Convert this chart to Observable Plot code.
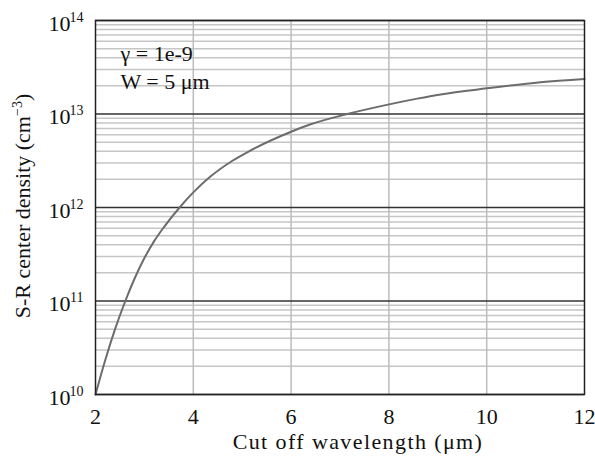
<!DOCTYPE html>
<html>
<head>
<meta charset="utf-8">
<script src="https://cdn.jsdelivr.net/npm/d3@7"></script>
<script src="https://cdn.jsdelivr.net/npm/@observablehq/plot@0.6"></script>
<style>
  html, body { margin: 0; padding: 0; background: #fff; }
  svg, svg text { font-family: "Liberation Serif", "Times New Roman", serif; }
</style>
</head>
<body>
<div id="chart"></div>
<script>
// Cut-off wavelength (µm)
const wavelength = [2, 2.2, 2.4, 2.61, 2.8, 3.0, 3.2, 3.4, 3.72, 4.0, 4.35, 4.8, 5.17, 6.0, 6.4, 7.15, 7.98, 8.58, 9.06, 10.0, 11.1, 12.0];
// S-R center density (cm^-3)
const density = [1e10, 2.34e10, 5.0e10, 1e11, 1.74e11, 2.88e11, 4.37e11, 6.17e11, 1e12, 1.45e12, 2.14e12, 3.16e12, 4.07e12, 6.46e12, 7.76e12, 1e13, 1.26e13, 1.46e13, 1.62e13, 1.88e13, 2.19e13, 2.37e13];

const xTicks = [2, 4, 6, 8, 10, 12];
const xGrid = [4, 6, 8, 10];
const decadeExps = [10, 11, 12, 13, 14];
const decades = [1e10, 1e11, 1e12, 1e13, 1e14];
const minorMultipliers = [2, 3, 4, 5, 6, 7, 8, 9];
const annotations = ["γ = 1e-9", "W = 5 μm"];
const xLabel = "Cut off wavelength (μm)";

const data = wavelength.map((w, i) => ({w, n: density[i]}));
const minors = decades.slice(0, -1).flatMap(d => minorMultipliers.map(m => m * d));
const decadeRows = decades.map((d, i) => ({d, e: String(decadeExps[i])}));

const FONT = 22;
const FAMILY = "Liberation Serif, Times New Roman, serif";

const plot = Plot.plot({
  width: 595,
  height: 459,
  marginLeft: 95,
  marginRight: 11,
  marginTop: 20,
  marginBottom: 65,
  style: {fontFamily: FAMILY, fontSize: FONT + "px", color: "#111", background: "#fff"},
  x: {domain: [2, 12]},
  y: {type: "log", domain: [1e10, 1e14]},
  marks: [
    Plot.ruleY(minors, {stroke: "#c6c6c6", strokeWidth: 1.5}),
    Plot.ruleX(xGrid, {stroke: "#bcbcbc", strokeWidth: 1.5}),
    Plot.ruleY(decades, {stroke: "#333", strokeWidth: 1.5}),
    Plot.line(data, {x: "w", y: "n", stroke: "#6c6c6c", strokeWidth: 2, curve: "monotone-x"}),
    Plot.frame({stroke: "#222", strokeWidth: 1.5}),
    Plot.axisX({ticks: xTicks, tickSize: 0, tickPadding: 14, tickFormat: d => String(d), fontSize: FONT, fontFamily: FAMILY, label: null}),
    Plot.axisY({ticks: [], tickSize: 0, label: null}),
    // y tick labels: "10" plus superscript exponent
    Plot.text(decadeRows, {y: "d", frameAnchor: "left", text: () => "10", textAnchor: "end", lineAnchor: "bottom", dx: -25, dy: 10, fontSize: FONT, fontFamily: FAMILY, fill: "#111"}),
    Plot.text(decadeRows, {y: "d", frameAnchor: "left", text: "e", textAnchor: "end", lineAnchor: "bottom", dx: -12, dy: 1, fontSize: 14, fontFamily: FAMILY, fill: "#111"}),
    // annotations
    Plot.text([annotations[0]], {frameAnchor: "top-left", text: d => d, textAnchor: "start", lineAnchor: "bottom", dx: 25, dy: 40, fontSize: FONT, fontFamily: FAMILY, fill: "#111"}),
    Plot.text([annotations[1]], {frameAnchor: "top-left", text: d => d, textAnchor: "start", lineAnchor: "bottom", dx: 25, dy: 68, fontSize: FONT, fontFamily: FAMILY, fill: "#111"}),
    // x axis label
    Plot.text([xLabel], {frameAnchor: "bottom", text: d => d, textAnchor: "middle", lineAnchor: "bottom", dx: 18, dy: 54, fontSize: FONT, fontFamily: FAMILY, fill: "#111"})
  ]
});

// y-axis label with superscript
const svg = d3.select(plot);
const yl = svg.append("text")
  .attr("transform", "translate(30,206) rotate(-90)")
  .attr("text-anchor", "middle")
  .attr("font-size", FONT)
  .attr("font-family", FAMILY)
  .attr("fill", "#111");
yl.append("tspan").text("S-R center density (cm");
yl.append("tspan").attr("font-size", 14).attr("dy", -8).text("−3");
yl.append("tspan").attr("dy", 8).text(")");

// slight letter spacing on the x-axis title, as in the reference
svg.selectAll("text").filter(function() { return this.textContent === xLabel; }).attr("letter-spacing", "1.4px");

document.getElementById("chart").appendChild(plot);
</script>
</body>
</html>
